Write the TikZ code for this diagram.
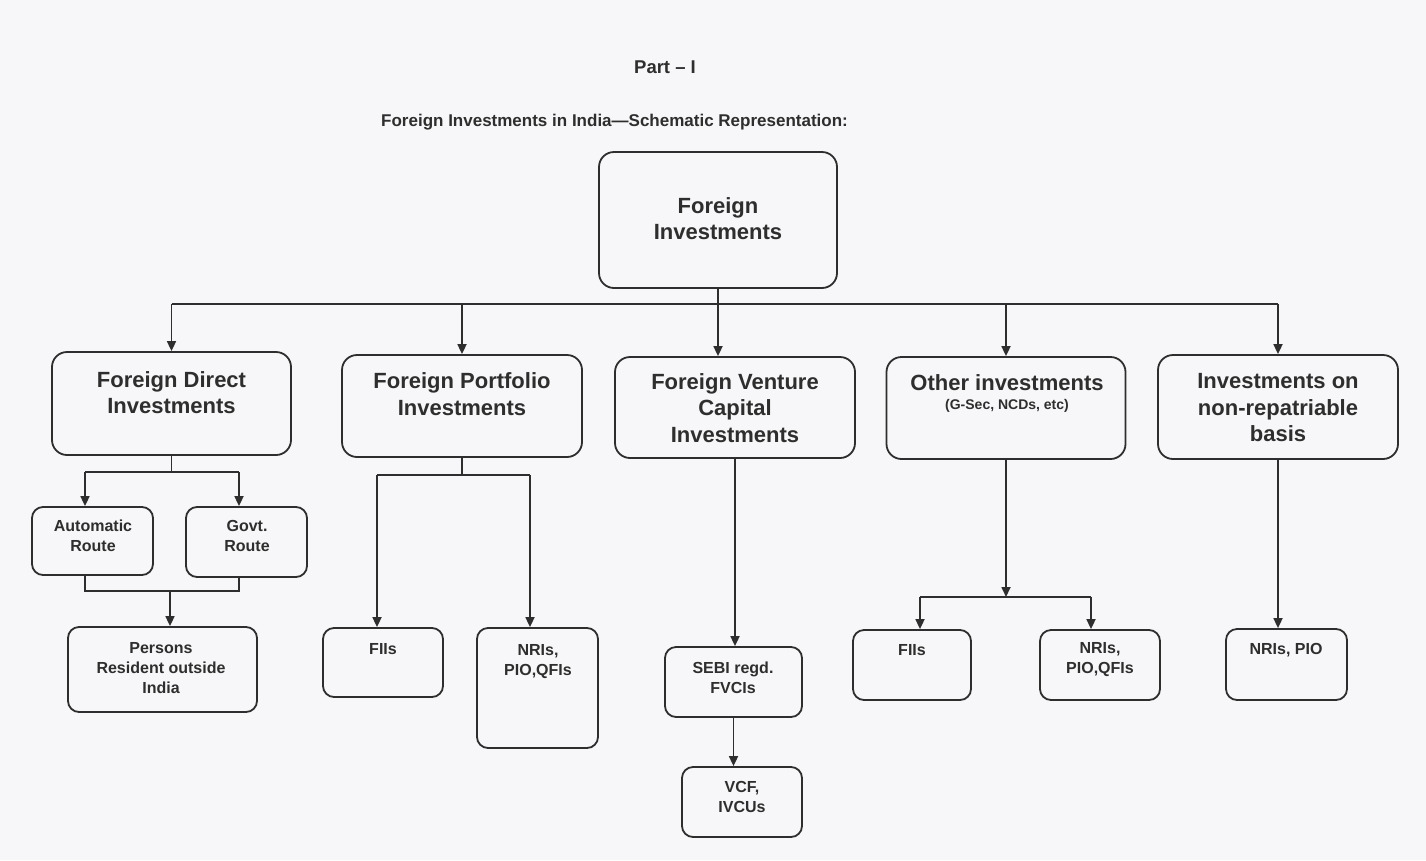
\documentclass[tikz,border=0pt]{standalone}
\usepackage{fontspec}
\setmainfont{Liberation Sans}
\usetikzlibrary{arrows.meta}
\definecolor{ink}{HTML}{2E2E2E}
\definecolor{paper}{HTML}{F7F6F8}
\begin{document}
\begin{tikzpicture}[x=1pt,y=-1pt,
  box/.style={draw=ink, line width=1.8pt, rounded corners=15pt, inner sep=0pt},
  sbox/.style={box, rounded corners=11pt},
  big/.style={text=ink, font=\bfseries\fontsize{22}{26.5}\selectfont, align=center, inner sep=0pt},
  small/.style={text=ink, font=\bfseries\fontsize{16}{20}\selectfont, align=center, inner sep=0pt},
  tiny/.style={text=ink, font=\bfseries\fontsize{14}{17}\selectfont, align=center, inner sep=0pt},
  conn/.style={draw=ink, line width=1.7pt},
  arr/.style={conn, -{Triangle[length=10pt,width=9pt]}},
]
\fill[paper] (0,0) rectangle (1426,860);
\useasboundingbox (0,0) rectangle (1426,860);

% headings
\node[text=ink, font=\bfseries\fontsize{18.5}{22}\selectfont, inner sep=0pt] (part) at (665,67) {Part -- I};
\node[text=ink, font=\bfseries\fontsize{17}{20}\selectfont, inner sep=0pt, anchor=west] (title) at (381,122) {Foreign Investments in India---Schematic Representation:};

% root
\node[box, minimum width=238pt, minimum height=136pt] (root) at (718,220) {};
\node[big] (rootT) at (718,218.5) {Foreign\\Investments};

% level 2
\node[box, minimum width=239pt, minimum height=103pt] (fdi) at (171.5,403.5) {};
\node[big] (fdiT) at (171.5,392.5) {Foreign Direct\\Investments};
\node[box, minimum width=240pt, minimum height=102pt] (fpi) at (462,406) {};
\node[big] (fpiT) at (462,394) {Foreign Portfolio\\Investments};
\node[box, minimum width=240pt, minimum height=101pt] (fvci) at (735,407.5) {};
\node[big] (fvciT) at (735,408) {Foreign Venture\\Capital\\Investments};
\node[box, minimum width=239pt, minimum height=102pt] (oth) at (1006,408) {};
\node[big] (othT) at (1007,383) {Other investments};
\node[tiny] (othS) at (1007,406) {(G-Sec, NCDs, etc)};
\node[box, minimum width=240pt, minimum height=104pt] (nrp) at (1278,407) {};
\node[big] (nrpT) at (1278,408) {Investments on\\non-repatriable\\basis};

% FDI branch
\node[sbox, minimum width=121pt, minimum height=68pt] (auto) at (92.5,541) {};
\node[small] (autoT) at (93,536) {Automatic\\Route};
\node[sbox, minimum width=121pt, minimum height=70pt] (govt) at (246.5,542) {};
\node[small] (govtT) at (247,536) {Govt.\\Route};
\node[sbox, minimum width=189pt, minimum height=85pt] (pers) at (162.5,669.5) {};
\node[small] (persT) at (161,668) {Persons\\Resident outside\\India};

% FPI branch
\node[sbox, minimum width=120pt, minimum height=69pt] (fii1) at (383,662.5) {};
\node[small] (fii1T) at (383,649) {FIIs};
\node[sbox, minimum width=121pt, minimum height=120pt] (nri1) at (537.5,688) {};
\node[small] (nri1T) at (538,662) {NRIs,\\PIO,QFIs};

% FVCI branch
\node[sbox, minimum width=137pt, minimum height=70pt] (sebi) at (733.5,682) {};
\node[small] (sebiT) at (733,678) {SEBI regd.\\FVCIs};
\node[sbox, minimum width=120pt, minimum height=70pt] (vcf) at (742,802) {};
\node[small] (vcfT) at (742,797) {VCF,\\IVCUs};

% Other branch
\node[sbox, minimum width=118pt, minimum height=70pt] (fii2) at (912,665) {};
\node[small] (fii2T) at (912,650) {FIIs};
\node[sbox, minimum width=120pt, minimum height=70pt] (nri2) at (1100,665) {};
\node[small] (nri2T) at (1100,660) {NRIs,\\PIO,QFIs};

% Non-repatriable branch
\node[sbox, minimum width=121pt, minimum height=71pt] (npio) at (1286.5,664.5) {};
\node[small] (npioT) at (1286,650) {NRIs, PIO};

% ---------- connectors ----------
\coordinate (bus) at (718,304);
\draw[conn] (root.south) -- (bus);
\draw[conn] (fdi.north |- bus) -- (nrp.north |- bus);
\draw[arr] (fdi.north |- bus) -- (fdi.north);
\draw[arr] (fpi.north |- bus) -- (fpi.north);
\draw[arr] (bus) -- (bus |- fvci.north);
\draw[arr] (oth.north |- bus) -- (oth.north);
\draw[arr] (nrp.north |- bus) -- (nrp.north);

% FDI
\coordinate (fdiJ) at (171.5,472);
\draw[conn] (fdi.south) -- (fdiJ);
\draw[conn] ([xshift=-7.5pt]auto.north |- fdiJ) -- ([xshift=-7.5pt]govt.north |- fdiJ);
\draw[arr] ([xshift=-7.5pt]auto.north |- fdiJ) -- ([xshift=-7.5pt]auto.north);
\draw[arr] ([xshift=-7.5pt]govt.north |- fdiJ) -- ([xshift=-7.5pt]govt.north);
\coordinate (fdiK) at (170,591);
\draw[conn] ([xshift=-7.5pt]auto.south) -- ([xshift=-7.5pt]auto.south |- fdiK) -- ([xshift=-7.5pt]govt.south |- fdiK) -- ([xshift=-7.5pt]govt.south);
\draw[arr] (fdiK) -- (fdiK |- pers.north);

% FPI
\coordinate (fpiJ) at (462,475);
\draw[conn] (fpi.south) -- (fpiJ);
\draw[conn] ([xshift=-6pt]fii1.north |- fpiJ) -- ([xshift=-7.5pt]nri1.north |- fpiJ);
\draw[arr] ([xshift=-6pt]fii1.north |- fpiJ) -- ([xshift=-6pt]fii1.north);
\draw[arr] ([xshift=-7.5pt]nri1.north |- fpiJ) -- ([xshift=-7.5pt]nri1.north);

% FVCI
\draw[arr] (fvci.south) -- (fvci.south |- sebi.north);
\draw[arr] (sebi.south) -- (sebi.south |- vcf.north);

% Other
\coordinate (othJ) at (1006,597);
\draw[arr] (oth.south) -- (othJ);
\draw[conn] ([xshift=8pt]fii2.north |- othJ) -- ([xshift=-9pt]nri2.north |- othJ);
\draw[arr] ([xshift=8pt]fii2.north |- othJ) -- ([xshift=8pt]fii2.north);
\draw[arr] ([xshift=-9pt]nri2.north |- othJ) -- ([xshift=-9pt]nri2.north);

% Non-repatriable
\draw[arr] (nrp.south) -- (nrp.south |- npio.north);
\end{tikzpicture}
\end{document}
